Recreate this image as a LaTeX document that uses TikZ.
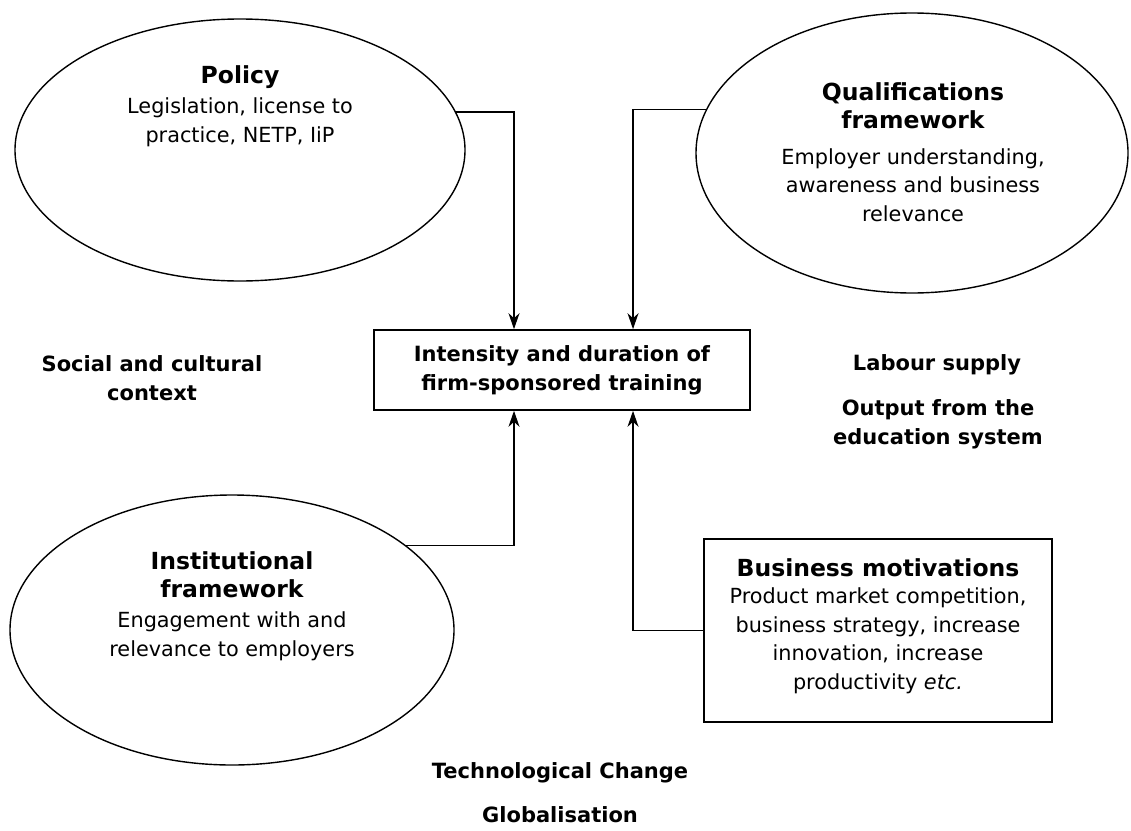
\documentclass[tikz,border=0pt]{standalone}
\usepackage{fontspec}
\setmainfont{DejaVu Sans}
\usetikzlibrary{arrows.meta,shapes.geometric,calc}
\tikzset{>={Stealth[length=16pt,width=11pt,inset=5pt]}}
\tikzset{
  ring/.style={draw, ellipse, line width=1.4pt, inner sep=0pt},
  frame/.style={draw, rectangle, line width=1.6pt, inner sep=0pt},
  head/.style={font=\fontsize{23.5}{28}\selectfont\bfseries, align=center},
  body/.style={font=\fontsize{20.8}{28.5}\selectfont, align=center},
  tag/.style={font=\fontsize{21}{29}\selectfont\bfseries, align=center},
  feed/.style={->, line width=1.4pt}
}

\begin{document}
\begin{tikzpicture}[x=1pt, y=-1pt]
  \useasboundingbox (0,0) rectangle (1131,830);

  % Shapes
  \node[ring, minimum width=450pt, minimum height=262pt] (policy) at (240,150) {};
  \node[ring, minimum width=432pt, minimum height=280pt] (qual) at (912,153) {};
  \node[ring, minimum width=444pt, minimum height=270pt] (inst) at (232,630) {};
  \node[frame, tag, minimum width=376pt, minimum height=80pt] (train) at (562,370)
    {Intensity and duration of\\firm-sponsored training};
  \node[frame, minimum width=348pt, minimum height=183pt] (biz) at (878,630.5) {};

  % Lines
  \draw[feed] (policy.10.6) -| ($(train.north)+(-48,0)$);
  \draw[feed] (qual.168.2) -| ($(train.north)+(71,0)$);
  \draw[feed] (inst.26.2) -| ($(train.south)+(-48,0)$);
  \draw[feed] (biz.west) -| ($(train.south)+(71,0)$);

  % Text in the shapes
  \node[head] (policyhd) at (240,77) {Policy};
  \node[body] (policytx) at (240,122.5) {Legislation, license to\\practice, NETP, IiP};
  \node[head] (qualhd) at (913,106) {Qualifications\\framework};
  \node[body] (qualtx) at (913,185) {Employer understanding,\\awareness and business\\relevance};
  \node[head] (insthd) at (232,575) {Institutional\\framework};
  \node[body] (insttx) at (232,636.5) {Engagement with and\\relevance to employers};
  \node[head] (bizhd) at (878,568) {Business motivations};
  \node[body] (biztx) at (878,640.5) {Product market competition,\\business strategy, increase\\innovation, increase\\productivity \textit{etc.}};

  % Context labels
  \node[tag] (social) at (152,378) {Social and cultural\\context};
  \node[tag] (labour) at (937,365) {Labour supply};
  \node[tag] (output) at (938,424) {Output from the\\education system};
  \node[tag] (tech) at (560,773) {Technological Change};
  \node[tag] (glob) at (560,815) {Globalisation};
\end{tikzpicture}
\end{document}
